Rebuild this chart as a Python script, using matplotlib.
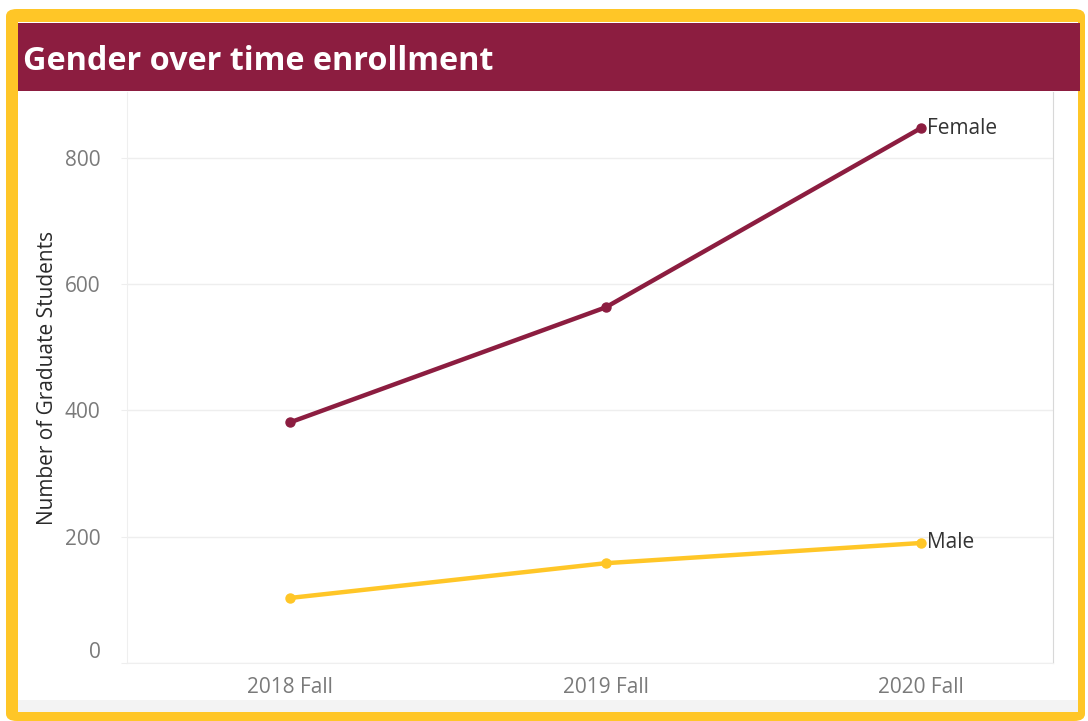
import matplotlib.pyplot as plt
from matplotlib.patches import FancyBboxPatch, Rectangle

# data
terms = ['2018 Fall', '2019 Fall', '2020 Fall']
female = [381, 563, 847]
male = [103, 158, 190]
yticks = [0, 200, 400, 600, 800]

maroon = '#8C1D40'
gold = '#FFC627'

plt.rcParams['font.family'] = ['Open Sans', 'DejaVu Sans']

fig = plt.figure(figsize=(10.88, 7.21), dpi=100)

# gold frame + white panel
W, H = 1088.0, 721.0
fig.patches.append(FancyBboxPatch((6 / W, 0), 1079 / W, 712 / H, boxstyle='round,pad=0,rounding_size=0.01',
                                  transform=fig.transFigure, facecolor=gold, edgecolor='none', zorder=0))
fig.patches.append(Rectangle((18 / W, 9 / H), 1060 / W, 690 / H, transform=fig.transFigure,
                             facecolor='white', edgecolor='none', zorder=1))
fig.patches.append(Rectangle((18 / W, 9 / H), 1060 / W, 12 / H, transform=fig.transFigure,
                             facecolor='#f3f3f3', edgecolor='none', zorder=1))
# title bar
fig.patches.append(Rectangle((18 / W, 1 - 91 / H), 1062 / W, 68 / H, transform=fig.transFigure,
                             facecolor=maroon, edgecolor='none', zorder=2))
fig.text(23 / W, 1 - 62 / H, 'Gender over time enrollment', color='white', fontsize=23.3,
         fontweight='bold', va='center', ha='left', zorder=3)

ax = fig.add_axes([127 / W, 1 - 663 / H, (1053 - 127) / W, (663 - 92) / H])
ax.set_facecolor('none')
ax.set_zorder(4)

x = range(len(terms))
ax.plot(x, female, color=maroon, lw=3.2, marker='o', ms=6.5, solid_capstyle='round')
ax.plot(x, male, color=gold, lw=3.2, marker='o', ms=6.5, solid_capstyle='round')
ax.text(2.02, female[-1], 'Female', color='#333333', fontsize=15, va='center', ha='left')
ax.text(2.02, male[-1], 'Male', color='#333333', fontsize=15, va='center', ha='left')

ax.set_xlim(-0.517, 2.418)
ax.set_ylim(0, 904)
ax.set_xticks(list(x))
ax.set_xticklabels(terms)
ax.set_yticks(yticks)
ax.grid(axis='y', color='#eeeeee', lw=1)
ax.set_axisbelow(True)
ax.tick_params(axis='x', colors='#888888', labelsize=15, length=0, pad=10)
ax.tick_params(axis='y', colors='#eeeeee', labelsize=15, length=4, pad=15)
for lab in ax.get_xticklabels() + ax.get_yticklabels():
    lab.set_color('#7a7a7a')
ax.get_yticklabels()[0].set_va('bottom')
ax.spines['top'].set_visible(False)
ax.spines['left'].set_color('#efefef')
ax.spines['bottom'].set_color('#efefef')
ax.spines['right'].set_color('#d8d8d8')
ax.set_ylabel('Number of Graduate Students', color='#2a2a2a', fontsize=15, fontweight='medium')
ax.yaxis.set_label_coords(-0.074, 0.5)

fig.savefig('out.png', dpi=100)
